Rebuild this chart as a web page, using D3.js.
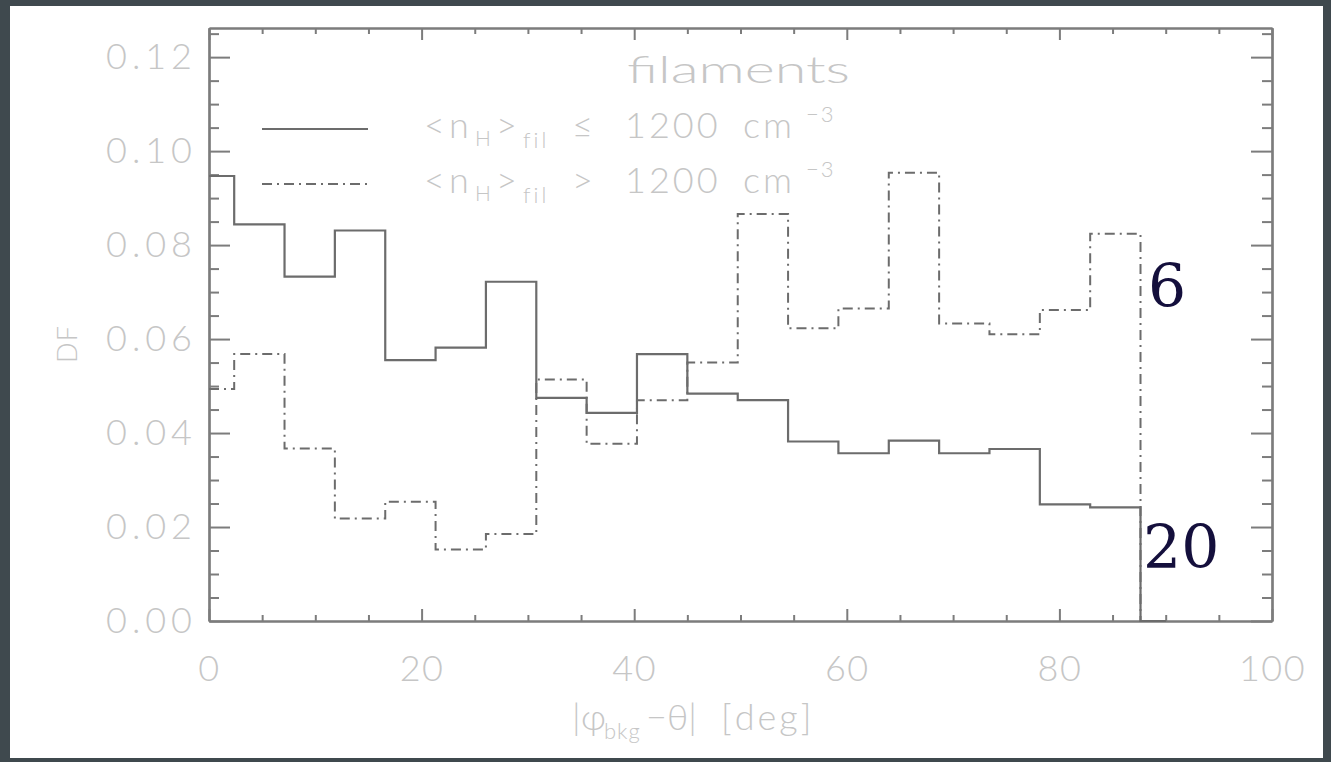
<!DOCTYPE html>
<html><head><meta charset="utf-8">
<script src="https://cdn.jsdelivr.net/npm/d3@7"></script>
<style>
html,body{margin:0;padding:0;background:#3f494e;overflow:hidden;}
svg{display:block;}
</style></head>
<body>
<svg id="chart" width="1331" height="762"></svg>
<script>
// ---- data ----
const binCenters = [0, 4.74, 9.47, 14.21, 18.95, 23.68, 28.42, 33.16, 37.89, 42.63,
                    47.37, 52.11, 56.84, 61.58, 66.32, 71.05, 75.79, 80.53, 85.26, 90];
const lowDensity = [0.0947, 0.0844, 0.0733, 0.0831, 0.0555, 0.0582, 0.0722, 0.0475, 0.0443, 0.0568,
                    0.0484, 0.0470, 0.0382, 0.0357, 0.0384, 0.0357, 0.0366, 0.0248, 0.0242, 0];
const highDensity = [0.0494, 0.0568, 0.0367, 0.0218, 0.0254, 0.0152, 0.0185, 0.0514, 0.0377, 0.0470,
                     0.0550, 0.0866, 0.0623, 0.0665, 0.0954, 0.0633, 0.0610, 0.0662, 0.0824, 0];
const xMajorTicks = [0, 20, 40, 60, 80, 100];
const xMinorTicks = [5,10,15,25,30,35,45,50,55,65,70,75,85,90,95];
const yMajorTicks = [0, 0.02, 0.04, 0.06, 0.08, 0.10, 0.12];
const yMinorTicks = [0.005,0.01,0.015,0.025,0.03,0.035,0.045,0.05,0.055,0.065,0.07,0.075,0.085,0.09,0.095,0.105,0.11,0.115,0.125];
const annotations = ["6", "20"];

// ---- layout ----
const svg = d3.select("#chart");
const L = 209, R = 1272, T = 28, B = 621;
const x = d3.scaleLinear().domain([0, 100]).range([L, R]);
const y = d3.scaleLinear().domain([0, 0.1262]).range([B, T]);

const axisCol = "#7c7c7c", lineCol = "#6c6c6c", textCol = "#c6c6c6";
const font = "Lato, 'Open Sans', 'DejaVu Sans', sans-serif";

// background panel
svg.append("rect").attr("x", 10).attr("y", 6).attr("width", 1313).attr("height", 752).attr("fill", "#ffffff");

function styleAxis(g){
  g.selectAll("path.domain").attr("stroke", axisCol).attr("stroke-width", 2.2);
  g.selectAll(".tick line").attr("stroke", axisCol).attr("stroke-width", 2);
  g.selectAll(".tick text").attr("fill", textCol).attr("font-family", font)
    .attr("font-weight", 300).attr("font-size", 36).attr("letter-spacing", 1.5);
}
// bottom
svg.append("g").attr("transform", `translate(0,${B})`)
  .call(d3.axisBottom(x).tickValues(xMajorTicks).tickSize(-12).tickSizeOuter(0).tickPadding(34).tickFormat(d3.format("d")))
  .call(styleAxis);
svg.append("g").attr("transform", `translate(0,${B})`)
  .call(d3.axisBottom(x).tickValues(xMinorTicks).tickSize(-6).tickSizeOuter(0).tickFormat(""))
  .call(styleAxis);
// top
svg.append("g").attr("transform", `translate(0,${T})`)
  .call(d3.axisTop(x).tickValues(xMajorTicks).tickSize(-12).tickSizeOuter(0).tickFormat(""))
  .call(styleAxis);
svg.append("g").attr("transform", `translate(0,${T})`)
  .call(d3.axisTop(x).tickValues(xMinorTicks).tickSize(-6).tickSizeOuter(0).tickFormat(""))
  .call(styleAxis);
// left
const gl = svg.append("g").attr("transform", `translate(${L},0)`)
  .call(d3.axisLeft(y).tickValues(yMajorTicks).tickSize(-21).tickSizeOuter(0).tickPadding(17).tickFormat(d3.format(".2f")))
  .call(styleAxis);
gl.selectAll(".tick text").attr("textLength", 86).attr("lengthAdjust", "spacing").attr("letter-spacing", null);
svg.append("g").attr("transform", `translate(${L},0)`)
  .call(d3.axisLeft(y).tickValues(yMinorTicks).tickSize(-10).tickSizeOuter(0).tickFormat(""))
  .call(styleAxis);
// right
svg.append("g").attr("transform", `translate(${R},0)`)
  .call(d3.axisRight(y).tickValues(yMajorTicks).tickSize(-21).tickSizeOuter(0).tickFormat(""))
  .call(styleAxis);
svg.append("g").attr("transform", `translate(${R},0)`)
  .call(d3.axisRight(y).tickValues(yMinorTicks).tickSize(-10).tickSizeOuter(0).tickFormat(""))
  .call(styleAxis);

// histogram steps
const line = d3.line().x(d => x(d[0])).y(d => y(d[1])).curve(d3.curveStep);
svg.append("path").datum(binCenters.map((c, i) => [c, highDensity[i]]))
  .attr("d", line).attr("fill", "none").attr("stroke", lineCol).attr("stroke-width", 2)
  .attr("stroke-dasharray", "10,5,2,5");
svg.append("path").datum(binCenters.map((c, i) => [c, lowDensity[i]]))
  .attr("d", line).attr("fill", "none").attr("stroke", lineCol).attr("stroke-width", 2.2);

// title
svg.append("text").attr("x", 627).attr("y", 83).text("filaments")
  .attr("textLength", 223).attr("lengthAdjust", "spacingAndGlyphs")
  .attr("fill", textCol).attr("font-family", font).attr("font-weight", 300).attr("font-size", 37);

// legend
const legend = [{y: 129, dash: null, op: "≤"}, {y: 184, dash: "10,5,2,5", op: ">"}];
legend.forEach(d => {
  svg.append("line").attr("x1", 262).attr("x2", 368).attr("y1", d.y).attr("y2", d.y)
    .attr("stroke", lineCol).attr("stroke-width", 2).attr("stroke-dasharray", d.dash);
  const by = d.y + 9;
  const t = svg.append("text")
    .attr("fill", textCol).attr("font-family", font).attr("font-weight", 300).attr("font-size", 36);
  t.append("tspan").attr("x", 424).attr("y", by).text("<");
  t.append("tspan").attr("x", 449).attr("y", by).text("n");
  t.append("tspan").attr("x", 475).attr("y", by + 8).text("H").attr("font-size", 21);
  t.append("tspan").attr("x", 496).attr("y", by).text(">");
  t.append("tspan").attr("x", 523).attr("y", by + 10).text("fil").attr("font-size", 22).attr("letter-spacing", 3);
  t.append("tspan").attr("x", 572).attr("y", by).text(d.op);
  t.append("tspan").attr("x", 625).attr("y", by).text("1200").attr("letter-spacing", 3);
  t.append("tspan").attr("x", 743).attr("y", by).text("cm").attr("letter-spacing", 3);
  t.append("tspan").attr("x", 806).attr("y", by - 16).text("−3").attr("font-size", 22).attr("letter-spacing", 2);
});

// axis titles
const xt = svg.append("text")
  .attr("fill", textCol).attr("font-family", font).attr("font-weight", 300).attr("font-size", 36);
xt.append("tspan").attr("x", 572).attr("y", 730).text("|");
xt.append("tspan").attr("x", 581).attr("y", 730).text("φ");
xt.append("tspan").attr("x", 604).attr("y", 739).text("bkg").attr("font-size", 22).attr("letter-spacing", 1);
xt.append("tspan").attr("x", 646).attr("y", 730).text("−θ|");
xt.append("tspan").attr("x", 721).attr("y", 730).text("[deg]").attr("letter-spacing", 3);

svg.append("text").attr("transform", "translate(77,344) rotate(-90)").attr("text-anchor", "middle")
  .text("DF").attr("fill", textCol).attr("font-family", font).attr("font-weight", 300).attr("font-size", 27).attr("letter-spacing", 1);

// annotations
svg.append("text").attr("x", 1148).attr("y", 307).text(annotations[0])
  .attr("fill", "#140f3c").attr("font-family", "'DejaVu Serif', serif").attr("font-size", 60);
svg.append("text").attr("x", 1143).attr("y", 568).text(annotations[1])
  .attr("fill", "#140f3c").attr("font-family", "'DejaVu Serif', serif").attr("font-size", 60);
</script>
</body></html>
